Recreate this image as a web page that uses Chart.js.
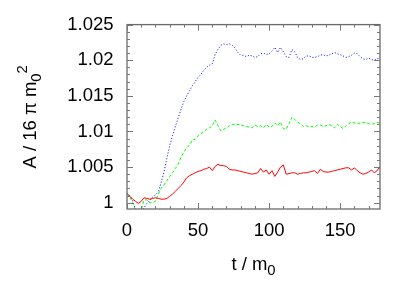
<!DOCTYPE html>
<html><head><meta charset="utf-8">
<script src="https://cdn.jsdelivr.net/npm/chart.js@4/dist/chart.umd.min.js"></script>
<style>html,body{margin:0;padding:0;background:#fff}#wrap{width:415px;height:291px}</style>
</head><body><div id="wrap"><canvas id="c" width="415" height="291"></canvas></div>
<script>
const tValues = [0,2,4,6,8,10,12,14,16,18,20,22,24,26,28,30,32,34,36,38,40,42,44,46,48,50,52,54,56,58,60,62,64,66,68,70,72,74,76,78,80,82,84,86,88,90,92,94,96,98,100,102,104,106,108,110,112,114,116,118,120,122,124,126,128,130,132,134,136,138,140,142,144,146,148,150,152,154,156,158,160,162,164,166,168,170,172,174,176,178];

const seriesBlue = [
1.0013,1.0010,1.0003,0.9990,0.9985,0.9987,0.9993,0.9999,1.0003,1.0008,
1.0011,1.0015,1.0028,1.0043,1.0062,1.0080,1.0094,1.0107,1.0119,1.0131,
1.0142,1.0150,1.0157,1.0164,1.0170,1.0176,1.0180,1.0186,1.0190,1.0193,
1.0195,1.0208,1.0215,1.0221,1.0223,1.0222,1.0223,1.0221,1.0217,1.0211,
1.0207,1.0207,1.0205,1.0207,1.0206,1.0204,1.0205,1.0209,1.0210,1.0208,
1.0209,1.0213,1.0218,1.0211,1.0218,1.0212,1.0205,1.0204,1.0215,1.0212,
1.0204,1.0201,1.0202,1.0206,1.0206,1.0204,1.0204,1.0205,1.0207,1.0208,
1.0206,1.0207,1.0209,1.0211,1.0209,1.0208,1.0206,1.0204,1.0205,1.0207,
1.0210,1.0209,1.0205,1.0202,1.0201,1.0203,1.0201,1.0200,1.0202,1.0203];

const seriesGreen = [
1.0013,1.0008,1.0000,0.9990,0.9984,0.9990,1.0004,1.0004,1.0000,1.0000,
1.0002,1.0012,1.0020,1.0025,1.0031,1.0037,1.0042,1.0048,1.0054,1.0064,
1.0071,1.0077,1.0081,1.0088,1.0089,1.0094,1.0097,1.0100,1.0103,1.0105,
1.0108,1.0116,1.0108,1.0101,1.0103,1.0105,1.0108,1.0110,1.0110,1.0110,
1.0109,1.0108,1.0107,1.0106,1.0105,1.0109,1.0107,1.0108,1.0105,1.0110,
1.0106,1.0107,1.0112,1.0108,1.0113,1.0104,1.0103,1.0111,1.0120,1.0117,
1.0113,1.0111,1.0107,1.0108,1.0107,1.0107,1.0106,1.0109,1.0109,1.0107,
1.0108,1.0110,1.0108,1.0105,1.0110,1.0107,1.0104,1.0108,1.0111,1.0113,
1.0112,1.0111,1.0112,1.0113,1.0112,1.0111,1.0110,1.0111,1.0113,1.0112];

const seriesRed = [
1.0013,1.0009,1.0005,1.0002,0.9999,1.0002,1.0007,1.0006,1.0005,1.0006,
1.0007,1.0006,1.0005,1.0005,1.0006,1.0009,1.0012,1.0016,1.0020,1.0024,
1.0029,1.0035,1.0038,1.0040,1.0042,1.0044,1.0045,1.0047,1.0048,1.0050,
1.0045,1.0051,1.0054,1.0052,1.0052,1.0051,1.0047,1.0046,1.0046,1.0045,
1.0044,1.0043,1.0042,1.0041,1.0040,1.0041,1.0042,1.0048,1.0043,1.0046,
1.0040,1.0045,1.0037,1.0043,1.0050,1.0053,1.0040,1.0041,1.0042,1.0042,
1.0040,1.0041,1.0042,1.0042,1.0043,1.0044,1.0045,1.0041,1.0047,1.0044,
1.0043,1.0043,1.0044,1.0045,1.0046,1.0047,1.0048,1.0049,1.0049,1.0046,
1.0049,1.0045,1.0042,1.0040,1.0041,1.0043,1.0046,1.0042,1.0045,1.0051];

const xTickValues = [0, 50, 100, 150];
const yTickValues = [1, 1.005, 1.01, 1.015, 1.02, 1.025];
const xMinorTickValues = [10,20,30,40,60,70,80,90,110,120,130,140,160,170];
const yMinorTickValues = [1.001,1.002,1.003,1.004,1.006,1.007,1.008,1.009,1.011,1.012,1.013,1.014,1.016,1.017,1.018,1.019,1.021,1.022,1.023,1.024];
const xTitle = ['t / m', '0'];
const yTitle = ['A / 16 π m', '0', '2'];

const FONT = '"Liberation Sans", Arial, Helvetica, sans-serif';
const FS = 18.5;

function pts(ys) { return tValues.map((t, i) => ({x: t, y: ys[i]})); }

const framePlugin = {
  id: 'frame',
  afterDraw(chart) {
    const {ctx, chartArea: a, scales: {x, y}} = chart;
    ctx.save();
    ctx.strokeStyle = '#6a6a6a';
    ctx.lineWidth = 1.3;
    ctx.strokeRect(a.left, a.top, a.right - a.left, a.bottom - a.top);
    ctx.beginPath();
    const tick = (vals, len, horiz) => {
      vals.forEach(v => {
        if (horiz) {
          const p = Math.round(x.getPixelForValue(v)) + 0.5;
          ctx.moveTo(p, a.bottom); ctx.lineTo(p, a.bottom - len);
          ctx.moveTo(p, a.top); ctx.lineTo(p, a.top + len);
        } else {
          const p = Math.round(y.getPixelForValue(v)) + 0.5;
          ctx.moveTo(a.left, p); ctx.lineTo(a.left + len, p);
          ctx.moveTo(a.right, p); ctx.lineTo(a.right - len, p);
        }
      });
    };
    tick(xTickValues, 6, true);
    tick(xMinorTickValues, 3, true);
    tick(yTickValues, 6, false);
    tick(yMinorTickValues, 3, false);
    ctx.lineWidth = 1;
    ctx.strokeStyle = '#777';
    ctx.stroke();

    ctx.fillStyle = '#000';
    ctx.textBaseline = 'alphabetic';
    const mainF = FS + 'px ' + FONT, subF = (FS * 0.8) + 'px ' + FONT;
    // x title
    ctx.font = mainF; const w1 = ctx.measureText(xTitle[0]).width;
    ctx.font = subF; const w2 = ctx.measureText(xTitle[1]).width;
    let sx = (a.left + a.right) / 2 - (w1 + w2) / 2;
    const by = 270;
    ctx.font = mainF; ctx.textAlign = 'left'; ctx.fillText(xTitle[0], sx, by);
    ctx.font = subF; ctx.fillText(xTitle[1], sx + w1, by + 5);
    // y title
    ctx.save();
    ctx.translate(36, (a.top + a.bottom) / 2);
    ctx.rotate(-Math.PI / 2);
    ctx.font = mainF; const u1 = ctx.measureText(yTitle[0]).width;
    ctx.font = subF; const u2 = ctx.measureText(yTitle[1]).width;
    const u3 = ctx.measureText(yTitle[2]).width;
    let s = -(u1 + u2 + u3) / 2;
    ctx.font = mainF; ctx.fillText(yTitle[0], s, 0);
    ctx.font = subF; ctx.fillText(yTitle[1], s + u1, 5);
    ctx.fillText(yTitle[2], s + u1 + u2, -9);
    ctx.restore();
    ctx.restore();
  }
};

new Chart(document.getElementById('c'), {
  type: 'line',
  data: {
    datasets: [
      {label: 'red', data: pts(seriesRed), borderColor: '#ff0000', borderWidth: 1, pointRadius: 0, tension: 0, fill: false},
      {label: 'green', data: pts(seriesGreen), borderColor: '#00ff00', borderWidth: 1, borderDash: [3, 2], pointRadius: 0, tension: 0, fill: false},
      {label: 'blue', data: pts(seriesBlue), borderColor: '#0000ff', borderWidth: 1, borderDash: [1, 2], pointRadius: 0, tension: 0, fill: false}
    ]
  },
  options: {
    responsive: false,
    animation: false,
    devicePixelRatio: 1,
    layout: {padding: {top: 24, right: 35, left: 0, bottom: 0}},
    plugins: {legend: {display: false}, tooltip: {enabled: false}},
    scales: {
      x: {
        type: 'linear', min: 0, max: 178,
        grid: {display: false, drawTicks: false},
        border: {display: false},
        afterBuildTicks: s => { s.ticks = xTickValues.map(v => ({value: v})); },
        afterFit: s => { s.height = 82; },
        ticks: {color: '#000', padding: 11, font: {family: FONT, size: FS}, maxRotation: 0, callback: v => String(v)}
      },
      y: {
        type: 'linear', min: 0.99912, max: 1.025,
        grid: {display: false, drawTicks: false},
        border: {display: false},
        afterBuildTicks: s => { s.ticks = yTickValues.map(v => ({value: v})); },
        afterFit: s => { s.width = 127; },
        ticks: {color: '#000', padding: 13.5, font: {family: FONT, size: FS}, callback: v => String(+v.toFixed(3))}
      }
    }
  },
  plugins: [framePlugin]
});
</script>
</body></html>
